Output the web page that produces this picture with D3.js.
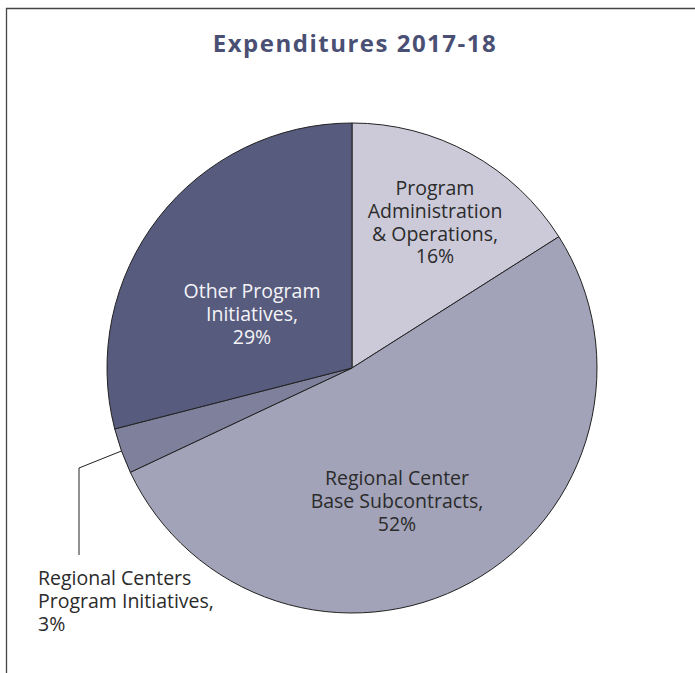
<!DOCTYPE html>
<html>
<head>
<meta charset="utf-8">
<script src="https://cdn.jsdelivr.net/npm/d3@7"></script>
<style>
  body { margin: 0; background: #fff; }
  svg { display: block; }
</style>
</head>
<body>
<div class="chart"></div>
<script>
// slice data, clockwise from 12 o'clock
const categories = [
  'Program Administration & Operations',
  'Regional Center Base Subcontracts',
  'Regional Centers Program Initiatives',
  'Other Program Initiatives'
];
const values = [16, 52, 3, 29];
const labelLines = [
  ['Program', 'Administration', '& Operations,', '16%'],
  ['Regional Center', 'Base Subcontracts,', '52%'],
  ['Regional Centers', 'Program Initiatives,', '3%'],
  ['Other Program', 'Initiatives,', '29%']
];
const colors = ['#cccad9', '#a2a3b8', '#7f809c', '#575b7d'];
const textColors = ['#2b2b2b', '#2b2b2b', '#2b2b2b', '#f4f4f8'];

const width = 695;
const height = 673;
const cx = 352, cy = 368, radius = 245;

// label placement: offset of the first baseline from the pie centre
const labelPos = [
  { dx: 83, dy: -173, anchor: 'middle' },
  { dx: 45, dy: 117, anchor: 'middle' },
  { dx: 38 - cx, dy: 585 - cy, anchor: 'start' },
  { dx: -100, dy: -70, anchor: 'middle' }
];
const lineH = 22.8;

const svg = d3.select('.chart').append('svg')
  .attr('width', width)
  .attr('height', height);

// frame (top and left only visible)
svg.append('path')
  .attr('d', `M6.5,${height} V8.5 H${width}`)
  .attr('fill', 'none')
  .attr('stroke', '#444')
  .attr('stroke-width', 1.3);

svg.append('text')
  .attr('x', 355)
  .attr('y', 52)
  .attr('text-anchor', 'middle')
  .attr('font-family', 'Open Sans, sans-serif')
  .attr('font-weight', 'bold')
  .attr('font-size', 24)
  .attr('letter-spacing', 1.5)
  .attr('fill', '#4a4f74')
  .text('Expenditures 2017-18');

const pie = d3.pie().sort(null).value(d => d);
const arcs = pie(values);
const arc = d3.arc().innerRadius(0).outerRadius(radius);

const g = svg.append('g').attr('transform', `translate(${cx},${cy})`);

g.selectAll('path.slice')
  .data(arcs)
  .enter().append('path')
  .attr('class', 'slice')
  .attr('d', arc)
  .attr('fill', (d, i) => colors[i])
  .attr('stroke', '#222')
  .attr('stroke-width', 1);

// leader line for the small slice
const small = arcs[2];
const sa = (small.startAngle + small.endAngle) / 2;
const p0 = [Math.sin(sa) * radius, -Math.cos(sa) * radius];
g.append('path')
  .attr('d', `M${p0[0]},${p0[1]} L${79 - cx},${468 - cy} V${555 - cy}`)
  .attr('fill', 'none')
  .attr('stroke', '#222')
  .attr('stroke-width', 1);

labelLines.forEach((lines, i) => {
  const p = labelPos[i];
  const t = g.append('text')
    .attr('text-anchor', p.anchor)
    .attr('font-family', 'Open Sans, sans-serif')
    .attr('font-size', 19.5)
    .attr('fill', textColors[i]);
  lines.forEach((s, j) => {
    t.append('tspan')
      .attr('x', p.dx)
      .attr('y', p.dy + j * lineH)
      .text(s);
  });
});
</script>
</body>
</html>
